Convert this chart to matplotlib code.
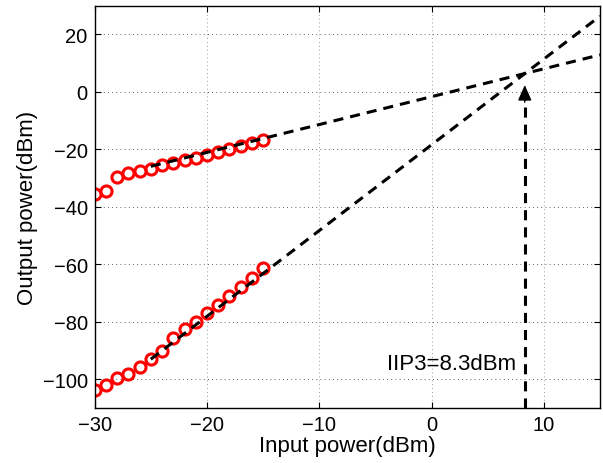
import numpy as np
import matplotlib
matplotlib.use("Agg")
import matplotlib.pyplot as plt

plt.rcParams['font.family'] = ['Liberation Sans', 'DejaVu Sans']
plt.rcParams['font.size'] = 14.5

# Data
pin = [-30, -29, -28, -27, -26, -25, -24, -23, -22, -21, -20, -19, -18, -17, -16, -15]
fund_out = [-35.5, -34.6, -29.7, -28.3, -27.6, -26.8, -25.6, -24.8, -23.6, -22.9,
            -21.8, -20.9, -19.8, -18.9, -17.8, -16.6]
im3_out = [-103.7, -102.0, -99.7, -98.2, -95.9, -92.9, -90.1, -85.7, -82.4, -80.1,
           -76.9, -74.0, -70.9, -68.0, -64.7, -61.4]

# Fitted extrapolation lines (slope, intercept) over x-range
fit_x = [-25, 15]
fund_fit = (0.97, -1.65)
im3_fit = (2.985, -18.4)
iip3 = 8.3
arrow_tip = 2.4

fig = plt.figure(figsize=(6.03, 4.64), dpi=100)
ax = fig.add_axes([0.157, 0.1185, 0.838, 0.867])

xf = np.array(fit_x, dtype=float)
dash = (0, (3.3, 2.3))
ax.plot(xf, fund_fit[0] * xf + fund_fit[1], color='k', lw=2.2, linestyle=dash, zorder=3)
ax.plot(xf, im3_fit[0] * xf + im3_fit[1], color='k', lw=2.2, linestyle=dash, zorder=3)

ax.plot(pin, fund_out, 'o', mfc='none', mec='red', ms=8, mew=2.2, zorder=2)
ax.plot(pin, im3_out, 'o', mfc='none', mec='red', ms=8, mew=2.2, zorder=2)

# Arrow
ax.plot([iip3, iip3], [-110, arrow_tip - 4], color='k', lw=2.2, linestyle=dash, zorder=3)
ax.annotate('', xy=(iip3, arrow_tip), xytext=(iip3, arrow_tip - 6),
            arrowprops=dict(arrowstyle='-|>,head_length=0.95,head_width=0.42',
                            mutation_scale=10, color='k', lw=1.0,
                            shrinkA=0, shrinkB=0), zorder=4)

ax.text(-3.95, -94.4, 'IIP3=8.3dBm', ha='left', va='center', fontsize=16)

ax.set_xlim(-30, 15)
ax.set_ylim(-110, 30)
ax.set_xticks([-30, -20, -10, 0, 10])
ax.set_xticklabels(['\u221230', '\u221220', '\u221210', '0', '10'])
ax.set_yticks([-100, -80, -60, -40, -20, 0, 20])
ax.set_yticklabels(['\u2212100', '\u221280', '\u221260', '\u221240', '\u221220', '0', '20'])
ax.tick_params(direction='in', top=True, right=True, length=4, width=0.8, pad=5)
ax.grid(True, axis='y', color='#333333', linestyle=(0, (1, 4)), lw=0.6)
ax.grid(True, axis='x', color='#999999', linestyle=(0, (1, 3)), lw=0.7)
for s in ax.spines.values():
    s.set_linewidth(1.0)

ax.set_xlabel('Input power(dBm)', labelpad=1, fontsize=16)
ax.set_ylabel('Output power(dBm)', labelpad=3, fontsize=16)

fig.savefig('out.png', dpi=100)
